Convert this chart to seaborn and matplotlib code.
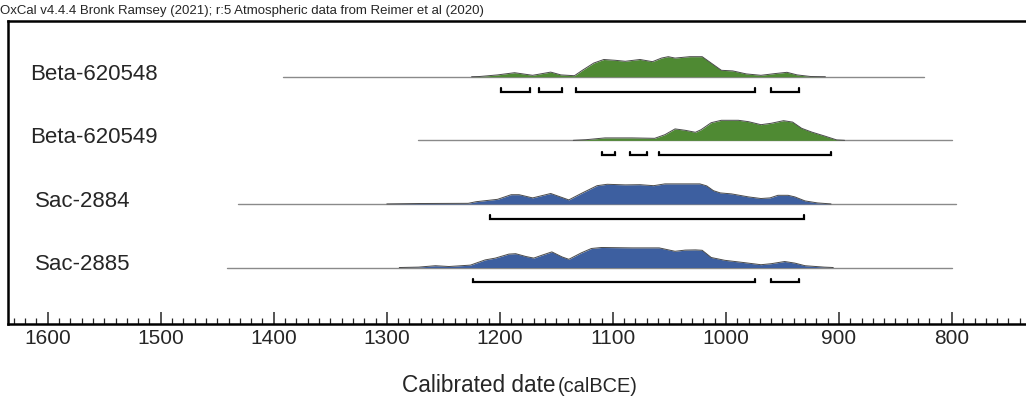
import matplotlib
matplotlib.use("Agg")
import numpy as np
import matplotlib.pyplot as plt
import seaborn as sns
from matplotlib.ticker import MultipleLocator

# samples, top to bottom
labels = ["Beta-620548", "Beta-620549", "Sac-2884", "Sac-2885"]
colors = ["#4f8a33", "#4f8a33", "#3d5fa0", "#3d5fa0"]

# grey baseline extent for each sample (calBCE)
span_start = [1392, 1272, 1432, 1441]
span_end = [825, 800, 796, 800]

# calibrated probability curves (relative height, 1 = max)
beta548_years = [1225, 1218, 1202, 1187, 1171, 1155, 1146, 1134, 1127, 1117, 1108,
                 1098, 1089, 1076, 1065, 1057, 1051, 1045, 1032, 1021, 1013, 1004,
                 994, 982, 969, 956, 946, 937, 925, 912]
beta548_prob = [0.0, 0.01, 0.09, 0.2, 0.07, 0.23, 0.09, 0.05, 0.32, 0.68, 0.86,
                0.82, 0.77, 0.86, 0.75, 0.93, 1.0, 0.93, 1.0, 1.0, 0.68, 0.32,
                0.29, 0.14, 0.07, 0.16, 0.22, 0.09, 0.01, 0.0]

beta549_years = [1135, 1124, 1107, 1083, 1063, 1054, 1045, 1036, 1027, 1022, 1013,
                 1004, 989, 980, 969, 960, 949, 941, 933, 924, 913, 902, 895]
beta549_prob = [0.0, 0.03, 0.12, 0.12, 0.1, 0.28, 0.57, 0.5, 0.4, 0.53, 0.88,
                1.0, 1.0, 0.93, 0.78, 0.85, 0.98, 0.91, 0.6, 0.41, 0.22, 0.02, 0.0]

sac2884_years = [1300, 1272, 1228, 1221, 1202, 1190, 1183, 1171, 1155, 1139, 1127,
                 1114, 1105, 1089, 1076, 1064, 1054, 1038, 1023, 1017, 1011, 1005,
                 995, 980, 969, 961, 954, 945, 939, 930, 919, 907]
sac2884_prob = [0.0, 0.02, 0.03, 0.11, 0.23, 0.46, 0.46, 0.3, 0.52, 0.2, 0.55,
                0.91, 0.98, 0.95, 0.96, 0.91, 1.0, 1.0, 1.0, 0.9, 0.66, 0.55,
                0.5, 0.35, 0.27, 0.3, 0.43, 0.43, 0.35, 0.15, 0.05, 0.0]

sac2885_years = [1289, 1272, 1257, 1245, 1226, 1219, 1213, 1204, 1192, 1186, 1177,
                 1170, 1163, 1154, 1145, 1139, 1128, 1119, 1110, 1083, 1059, 1045,
                 1036, 1027, 1021, 1013, 1001, 986, 969, 960, 948, 939, 930, 913, 905]
sac2885_prob = [0.0, 0.02, 0.09, 0.05, 0.12, 0.26, 0.38, 0.47, 0.67, 0.69, 0.55,
                0.47, 0.61, 0.78, 0.53, 0.41, 0.73, 0.95, 1.0, 0.98, 0.98, 0.81,
                0.87, 0.88, 0.86, 0.5, 0.36, 0.26, 0.14, 0.19, 0.3, 0.22, 0.09,
                0.02, 0.0]

# 95.4% ranges (from, to) calBCE
beta548_ranges = [(1199, 1173), (1165, 1145), (1133, 974), (960, 935)]
beta549_ranges = [(1110, 1098), (1085, 1070), (1059, 907)]
sac2884_ranges = [(1209, 931)]
sac2885_ranges = [(1224, 974), (960, 935)]

curves = [(beta548_years, beta548_prob, beta548_ranges),
          (beta549_years, beta549_prob, beta549_ranges),
          (sac2884_years, sac2884_prob, sac2884_ranges),
          (sac2885_years, sac2885_prob, sac2885_ranges)]

sns.set_style("white")
plt.rcParams['font.family'] = ['Liberation Sans', 'DejaVu Sans']

fig = plt.figure(figsize=(10.26, 3.97), dpi=100)
ax = fig.add_axes([7.5 / 1026, 1 - 324 / 397, 1 - 7.5 / 1026, (324 - 21) / 397])

h_scale = 0.315     # curve height in row units
br_off = 0.235      # bracket offset below baseline
br_tip = 0.055

for k, (years, prob, ranges) in enumerate(curves):
    ax.plot([span_start[k], span_end[k]], [k, k], color="#8a8a8a", lw=1.0, zorder=1)
    top = k - np.array(prob) * h_scale
    ax.fill_between(years, k, top, color=colors[k], lw=0, zorder=2)
    sns.lineplot(x=years, y=top, sort=False, color="#4a4a4a", lw=0.7, ax=ax, zorder=3)
    for a, b in ranges:
        yb = k + br_off
        ax.plot([a, a, b, b], [yb - br_tip, yb, yb, yb - br_tip],
                color="black", lw=1.6, solid_joinstyle="miter", zorder=3)
    lx = 1615.7 if labels[k].startswith("Beta") else 1611.3
    ax.text(lx, k - 0.04, labels[k], fontsize=16, ha="left", va="center")

ax.set_xlim(1635.6, 734.5)
ax.set_ylim(3.888, -0.876)
ax.xaxis.set_major_locator(MultipleLocator(100))
ax.xaxis.set_minor_locator(MultipleLocator(10))
ax.tick_params(axis="x", which="major", direction="in", length=8.4, width=1.1,
               labelsize=15, pad=3.6, bottom=True, top=False)
ax.tick_params(axis="x", which="minor", direction="in", length=4.3, width=0.9,
               bottom=True, top=False)
ax.tick_params(axis="y", left=False, labelleft=False)
ax.set_ylabel("")
for side in ["left", "top", "bottom"]:
    ax.spines[side].set_linewidth(1.8)
    ax.spines[side].set_color("black")
ax.spines["right"].set_visible(False)

fig.text(0.0, 1 - 11 / 397,
         "OxCal v4.4.4 Bronk Ramsey (2021); r:5 Atmospheric data from Reimer et al (2020)",
         fontsize=9.5, ha="left", va="center")
fig.text(555 / 1026, 1 - 392 / 397, "Calibrated date", fontsize=16.3,
         ha="right", va="baseline")
fig.text(558 / 1026, 1 - 392 / 397, "(calBCE)", fontsize=14.4,
         ha="left", va="baseline")

fig.savefig("out.png", dpi=100)
